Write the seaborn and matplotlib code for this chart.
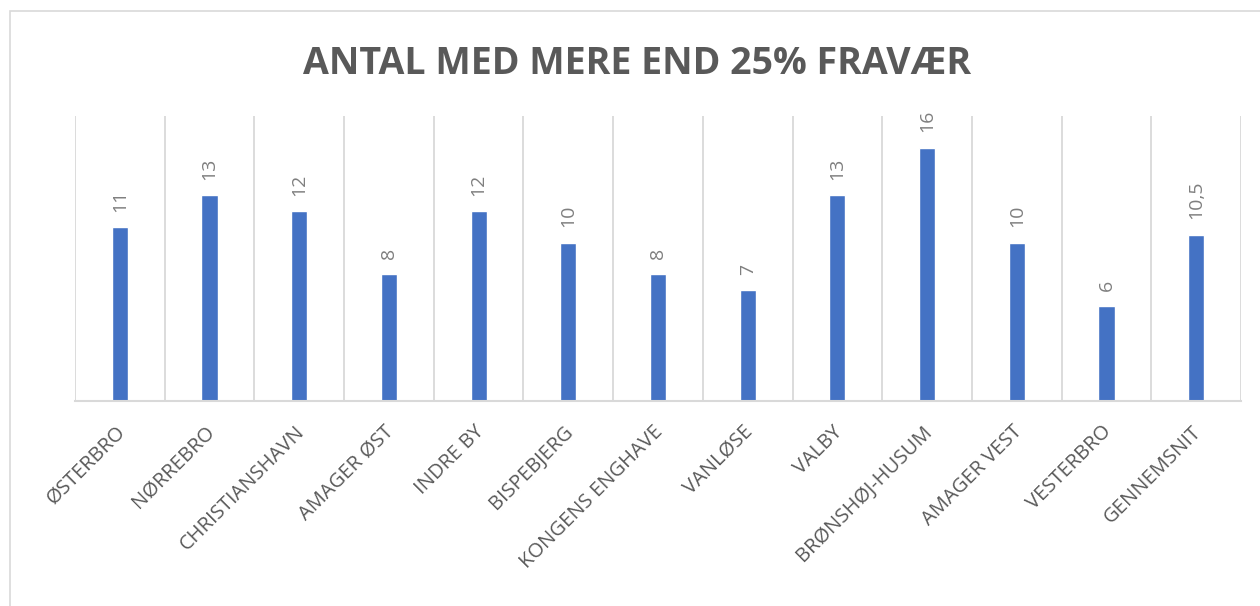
import matplotlib
matplotlib.use("Agg")
import matplotlib.pyplot as plt
from matplotlib.patches import Rectangle
from matplotlib.transforms import ScaledTranslation
import seaborn as sns
import pandas as pd

# Bydele og antal elever med mere end 25% fravær
categories = ["ØSTERBRO", "NØRREBRO", "CHRISTIANSHAVN", "AMAGER ØST", "INDRE BY",
              "BISPEBJERG", "KONGENS ENGHAVE", "VANLØSE", "VALBY", "BRØNSHØJ-HUSUM",
              "AMAGER VEST", "VESTERBRO", "GENNEMSNIT"]
values = [11, 13, 12, 8, 12, 10, 8, 7, 13, 16, 10, 6, 10.5]
value_labels = ["11", "13", "12", "8", "12", "10", "8", "7", "13", "16", "10", "6", "10,5"]
title = "ANTAL MED MERE END 25% FRAVÆR"

sns.set_theme(style="white")
plt.rcParams["font.family"] = ["Open Sans", "DejaVu Sans"]

df = pd.DataFrame({"bydel": categories, "antal": values})

fig = plt.figure(figsize=(12.6, 6.06), dpi=100)
fig.patch.set_facecolor("white")

# Chart frame
fig.patches.append(Rectangle((10 / 1260, -0.2), 1.2, 1.2 - 11 / 606,
                             transform=fig.transFigure, fill=False,
                             edgecolor="#d9d9d9", linewidth=1.2))

ax = fig.add_axes([75 / 1260, 1 - 401 / 606, (1241 - 75) / 1260, (401 - 116) / 606])
sns.barplot(data=df, x="bydel", y="antal", order=categories, color="#4472C4",
            width=0.18, saturation=1, ax=ax)

ax.set_ylim(0, 18)
ax.set_xlim(-0.5, len(categories) - 0.5)

# Category separators
for b in range(len(categories) + 1):
    ax.axvline(b - 0.5, color="#d9d9d9", linewidth=1.3, zorder=0)

for s in ["left", "right", "top"]:
    ax.spines[s].set_visible(False)
ax.spines["bottom"].set_color("#d9d9d9")
ax.spines["bottom"].set_linewidth(1.5)
ax.set_yticks([])
ax.set_xlabel("")
ax.set_ylabel("")

ax.set_xticks(range(len(categories)))
ax.set_xticklabels(categories, rotation=45, ha="right", va="top",
                   rotation_mode="anchor", fontsize=14.5, color="#595959")
ax.tick_params(axis="x", length=0, pad=15)
shift = ScaledTranslation(-5 / 100, 0, fig.dpi_scale_trans)
for lbl in ax.get_xticklabels():
    lbl.set_transform(lbl.get_transform() + shift)

# Value labels above the bars
for i, (v, lab) in enumerate(zip(values, value_labels)):
    ax.annotate(lab, xy=(i, v), xytext=(0, 11), textcoords="offset points",
                rotation=90, ha="center", va="bottom", fontsize=14,
                color="#7f7f7f")

fig.text(0.506, 0.895, title, ha="center", va="center", fontsize=27,
         fontweight="bold", color="#595959")

fig.savefig("out.png", dpi=100)
